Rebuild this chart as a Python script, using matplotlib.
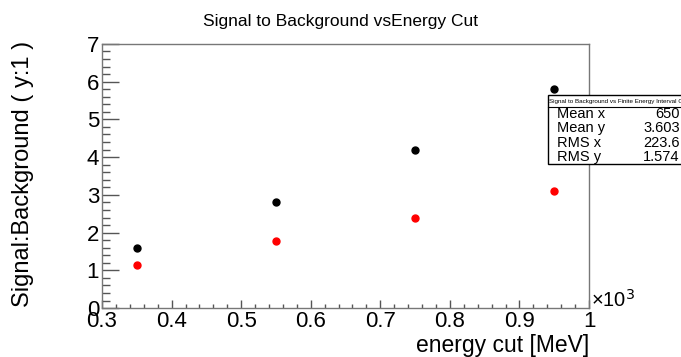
import matplotlib.pyplot as plt
from matplotlib.ticker import MultipleLocator, FuncFormatter

plt.rcParams['font.family'] = ['Liberation Sans', 'DejaVu Sans']

# energy cut values (MeV) and signal:background ratios
energy_cut = [350, 550, 750, 950]
sb_black = [1.6, 2.8, 4.2, 5.81]
sb_red = [1.13, 1.78, 2.39, 3.1]

# stats box entries
stat_names = ["Mean x", "Mean y", "RMS x", "RMS y"]
stat_values = ["650", "3.603", "223.6", "1.574"]

fig = plt.figure(figsize=(6.81, 3.57), dpi=100)
ax = fig.add_axes([0.1498, 0.137, 0.7152, 0.740])

ax.plot(energy_cut, sb_black, 'o', color='black', markersize=5)
ax.plot(energy_cut, sb_red, 'o', color='red', markersize=5)

ax.set_xlim(300, 1000)
ax.set_ylim(0, 7)

ax.xaxis.set_major_locator(MultipleLocator(100))
ax.xaxis.set_minor_locator(MultipleLocator(20))
ax.yaxis.set_major_locator(MultipleLocator(1))
ax.yaxis.set_minor_locator(MultipleLocator(0.2))
ax.xaxis.set_major_formatter(FuncFormatter(lambda v, p: "%g" % (v / 1000)))

ax.tick_params(which='both', direction='in', top=False, right=False,
               labelsize=16, color='#555555', width=1)
ax.tick_params(axis='x', which='major', length=6, pad=2)
ax.tick_params(axis='x', which='minor', length=3)
ax.tick_params(axis='y', which='major', length=12, pad=2)
ax.tick_params(axis='y', which='minor', length=6)

for s in ax.spines.values():
    s.set_color('#777777')
    s.set_linewidth(1)

ax.text(1.003, -0.01, "×10$^3$", transform=ax.transAxes, fontsize=14.5,
        ha='left', va='bottom')

fig.text(0.5, 0.94, "Signal to Background vsEnergy Cut", ha='center',
         va='center', fontsize=12.5)
fig.text(0.865, 0.0, "energy cut [MeV]", ha='right', va='bottom', fontsize=16.5)
fig.text(0.018, 0.885, "Signal:Background ( y:1 )", ha='left', va='top',
         rotation=90, fontsize=17)

# stats box (partly cut off at the right edge, as in the original)
bx0, by0, bw, bh = 548 / 681, 1 - 164 / 357, 0.25, 69 / 357
box = plt.Rectangle((bx0, by0), bw, bh, transform=fig.transFigure,
                    facecolor='white', edgecolor='black', linewidth=1,
                    clip_on=False)
fig.patches.append(box)
title_h = 12 / 357
fig.lines.append(plt.Line2D([bx0, bx0 + bw], [by0 + bh - title_h] * 2,
                            transform=fig.transFigure, color='black', lw=0.8))
fig.text(bx0 + 0.002, by0 + bh - title_h / 2,
         "Signal to Background vs Finite Energy Interval Cut",
         fontsize=4.5, va='center', ha='left')
row_h = (bh - title_h) / 4
for i in range(4):
    yy = by0 + bh - title_h - row_h * (i + 0.5)
    fig.text(bx0 + 0.013, yy, stat_names[i], fontsize=10.5, va='center', ha='left')
    fig.text(0.998, yy, stat_values[i], fontsize=10.5, va='center', ha='right')

fig.savefig("out.png", dpi=100)
